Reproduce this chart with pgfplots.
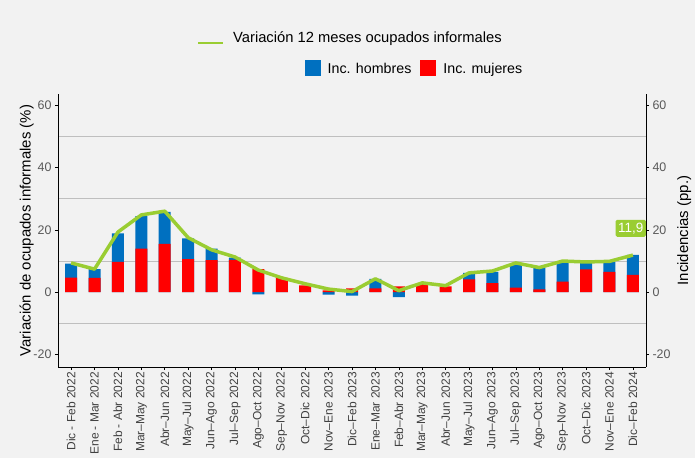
\documentclass[border=0pt]{standalone}
\usepackage{fontspec}
\setmainfont{Liberation Sans}
\usepackage{pgfplots}
\pgfplotsset{compat=1.18}
\definecolor{bg}{HTML}{F2F2F2}
\definecolor{cblue}{HTML}{0070C0}
\definecolor{cred}{HTML}{FF0000}
\definecolor{cgreen}{HTML}{9ACD32}
\definecolor{gridc}{HTML}{BFBFBF}
\definecolor{tickc}{HTML}{595959}
\definecolor{xtc}{HTML}{404040}

\pgfplotstableread{
x red blue line
0 4.7 9.2 9.4
1 4.6 7.4 7.4
2 9.7 18.9 19.3
3 14.0 24.4 24.8
4 15.5 25.8 26.0
5 10.6 17.3 17.5
6 10.3 14.0 13.6
7 10.4 11.1 11.3
8 7.4 -0.7 7.1
9 4.6 0 4.6
10 2.2 0.2 2.7
11 0.6 -0.8 1.0
12 1.2 -1.1 0.2
13 1.2 4.3 4.3
14 1.9 -1.6 0.5
15 2.6 0 3.0
16 1.9 0 2.1
17 4.1 6.2 6.2
18 2.9 6.5 6.8
19 1.5 9.0 9.4
20 0.9 7.9 7.9
21 3.4 9.7 10.0
22 7.3 9.4 9.7
23 6.5 9.7 9.9
24 5.6 12.0 11.9
}\datatable

\begin{document}
\begin{tikzpicture}
\fill[bg] (0,0) rectangle (695bp,458bp);
\begin{axis}[
  at={(58bp,91bp)}, anchor=south west,
  scale only axis, width=588bp, height=273bp,
  xmin=-0.56, xmax=24.56, ymin=-24, ymax=63.6,
  axis x line*=bottom, axis y line*=left,
  axis line style={black, line width=0.8bp},
  xtick={0,...,24},
  xticklabels={Dic - Feb 2022, Ene - Mar 2022, Feb - Abr 2022, Mar--May 2022, Abr--Jun 2022, May--Jul 2022, Jun--Ago 2022, Jul--Sep 2022, Ago--Oct 2022, Sep--Nov 2022, Oct--Dic 2022, Nov--Ene 2023, Dic--Feb 2023, Ene--Mar 2023, Feb--Abr 2023, Mar--May 2023, Abr--Jun 2023, May--Jul 2023, Jun--Ago 2023, Jul--Sep 2023, Ago--Oct 2023, Sep--Nov 2023, Oct--Dic 2023, Nov--Ene 2024, Dic--Feb 2024},
  x tick label style={rotate=90, anchor=east, font=\fontsize{12}{14}\selectfont, text=xtc, inner sep=2bp},
  ytick={-20,0,20,40,60},
  minor ytick={-10,10,30,50},
  yminorgrids, minor grid style={gridc, line width=0.9bp},
  minor tick length=0pt,
  tick align=outside, major tick length=3bp,
  tick style={black, line width=0.6bp},
  y tick label style={font=\fontsize{12.5}{14}\selectfont, text=tickc},
  /pgf/number format/assume math mode=true,
  ylabel={Variación de ocupados informales (\%)},
  ylabel style={font=\fontsize{15}{17}\selectfont, text=black},
  ylabel shift=-7bp,
  ybar, bar width=12bp, bar shift=0pt,
  legend style={draw=none, fill=none, at={(0.6063,1.095)}, anchor=center,
    legend columns=2, font=\fontsize{14.3}{16}\selectfont,
    /tikz/every even column/.append style={column sep=7bp},
    inner sep=0pt},
  legend cell align=left,
  legend image code/.code={\path[draw=none, fill=none] (0bp,0bp) -- (21bp,0bp); \fill[#1] (0bp,-7bp) rectangle (16bp,9bp);},
]
\addplot[fill=cblue, draw=none] table[x=x, y=blue] {\datatable};
\addlegendentry{Inc. hombres}
\addplot[fill=cred, draw=none] table[x=x, y=red] {\datatable};
\addlegendentry{Inc. mujeres}
\end{axis}
\begin{axis}[
  at={(58bp,91bp)}, anchor=south west,
  scale only axis, width=588bp, height=273bp,
  xmin=-0.56, xmax=24.56, ymin=-24, ymax=63.6,
  hide x axis,
  axis y line*=right,
  axis line style={black, line width=0.8bp},
  ytick={-20,0,20,40,60},
  tick align=outside, major tick length=3bp,
  tick style={black, line width=0.6bp},
  y tick label style={font=\fontsize{12.5}{14}\selectfont, text=tickc},
  /pgf/number format/assume math mode=true,
  ylabel={Incidencias (pp.)},
  ylabel style={font=\fontsize{15}{17}\selectfont, text=black},
  legend style={draw=none, fill=none, at={(0.4974,1.205)}, anchor=center,
    font=\fontsize{14.8}{16}\selectfont, inner sep=0pt},
  legend image code/.code={\path[draw=none, fill=none] (0bp,0bp) -- (33bp,0bp); \draw[#1, line width=1.8bp] (0bp,-5bp) -- (25bp,-5bp);},
  clip=false,
]
\addplot[cgreen, line width=3.5bp, line join=round, mark=none] table[x=x, y=line] {\datatable};
\addlegendentry{Variación 12 meses ocupados informales}
\node[fill=cgreen, text=white, anchor=east, rounded corners=1.5bp, inner xsep=2.5bp, inner ysep=3bp, font=\fontsize{13.5}{14}\selectfont] at (axis cs:24.56,20.5) {11,9};
\end{axis}
\pgfresetboundingbox
\useasboundingbox (0,0) rectangle (695bp,458bp);
\end{tikzpicture}
\end{document}
